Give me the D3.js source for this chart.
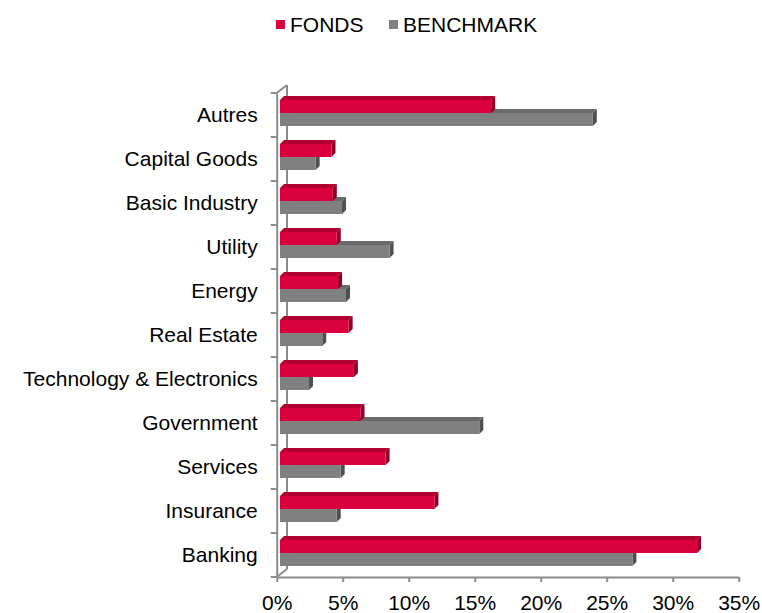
<!DOCTYPE html>
<html>
  <head>
    <style>
      body,
      html {
        margin: 0;
        background: #fff;
      }
      text {
        font-family: 'Liberation Sans', Arial, sans-serif;
        fill: #000;
      }
    </style>
  </head>
  <body>
    <svg id="svg" width="762" height="613"></svg>

    <script src="https://cdn.jsdelivr.net/npm/d3@7"></script>
    <script>
      const categories = [
        'Autres',
        'Capital Goods',
        'Basic Industry',
        'Utility',
        'Energy',
        'Real Estate',
        'Technology & Electronics',
        'Government',
        'Services',
        'Insurance',
        'Banking'
      ];
      const fonds = [16.0, 3.9, 4.0, 4.3, 4.4, 5.2, 5.6, 6.1, 8.0, 11.7, 31.6];
      const benchmark = [23.7, 2.7, 4.7, 8.3, 5.0, 3.2, 2.2, 15.1, 4.6, 4.3, 26.7];
      const xTicks = [0, 5, 10, 15, 20, 25, 30, 35];

      const series = [
        { name: 'BENCHMARK', values: benchmark, front: '#808080', top: '#6a6a6a', side: '#505050' },
        { name: 'FONDS', values: fonds, front: '#d9003d', top: '#b0002f', side: '#8f0026' }
      ];

      const svg = d3.select('#svg');
      const axisColor = '#8c8c8c';
      const depth = 4;
      const barShift = 3.3;

      const xScale = d3.scaleLinear().domain([0, 35]).range([276.7, 738.7]);
      const yScale = d3.scaleBand().domain(categories).range([93, 577]);
      const inner = d3.scaleBand().domain(['FONDS', 'BENCHMARK']).range([7, 33]);

      // walls / axis frame
      const frame = svg.append('g').attr('stroke', axisColor).attr('stroke-width', 2).attr('fill', 'none');
      frame.append('line').attr('x1', 287).attr('x2', 287).attr('y1', 85).attr('y2', 569);
      frame.append('line').attr('x1', xScale(0)).attr('x2', 287).attr('y1', 93).attr('y2', 85);
      frame.append('line').attr('x1', xScale(0)).attr('x2', 287).attr('y1', 577).attr('y2', 569);

      // bars, drawn bottom series first so the top one covers it
      const bars = svg.append('g');
      series.forEach((s) => {
        categories.forEach((c, i) => {
          const x0 = xScale(0) + barShift;
          const x1 = xScale(s.values[i]) + barShift;
          const y = yScale(c) + inner(s.name);
          const h = inner.bandwidth();
          bars
            .append('polygon')
            .attr('points', [[x0, y], [x0 + depth, y - depth], [x1 + depth, y - depth], [x1, y]].join(' '))
            .attr('fill', s.top);
          bars
            .append('polygon')
            .attr('points', [[x1, y], [x1 + depth, y - depth], [x1 + depth, y + h - depth], [x1, y + h]].join(' '))
            .attr('fill', s.side);
          bars.append('rect').attr('x', x0).attr('y', y).attr('width', x1 - x0).attr('height', h).attr('fill', s.front);
        });
      });

      // left axis
      const leftAxis = d3
        .axisLeft(yScale)
        .tickSize(0)
        .tickPadding(19);
      const gy = svg.append('g').attr('transform', `translate(${xScale(0)}, 0)`).call(leftAxis);
      gy.select('.domain').attr('stroke', axisColor).attr('stroke-width', 2);
      gy.selectAll('text').attr('font-size', 21).attr('font-family', "'Liberation Sans', Arial, sans-serif").attr('fill', '#000');
      const bounds = categories.map((c) => yScale(c)).concat([577]);
      gy.selectAll('.bound')
        .data(bounds)
        .enter()
        .append('line')
        .attr('x1', -6)
        .attr('x2', 0)
        .attr('y1', (d) => d)
        .attr('y2', (d) => d)
        .attr('stroke', axisColor)
        .attr('stroke-width', 2);

      // bottom axis
      const bottomAxis = d3
        .axisBottom(xScale)
        .tickValues(xTicks)
        .tickFormat((d) => d + '%')
        .tickSize(5)
        .tickSizeOuter(0)
        .tickPadding(13);
      const gx = svg.append('g').attr('transform', 'translate(0, 577)').call(bottomAxis);
      gx.select('.domain').attr('stroke', axisColor).attr('stroke-width', 2);
      gx.selectAll('line').attr('stroke', axisColor).attr('stroke-width', 2);
      gx.selectAll('text').attr('font-size', 21).attr('font-family', "'Liberation Sans', Arial, sans-serif").attr('fill', '#000');

      // legend
      const legendItems = [
        { name: 'FONDS', color: '#d9003d', x: 276 },
        { name: 'BENCHMARK', color: '#808080', x: 389 }
      ];
      const legend = svg.append('g');
      legendItems.forEach((d) => {
        legend.append('rect').attr('x', d.x).attr('y', 20).attr('width', 9).attr('height', 9).attr('fill', d.color);
        legend.append('text').attr('x', d.x + 14).attr('y', 32).attr('font-size', 21).text(d.name);
      });
    </script>
  </body>
</html>
